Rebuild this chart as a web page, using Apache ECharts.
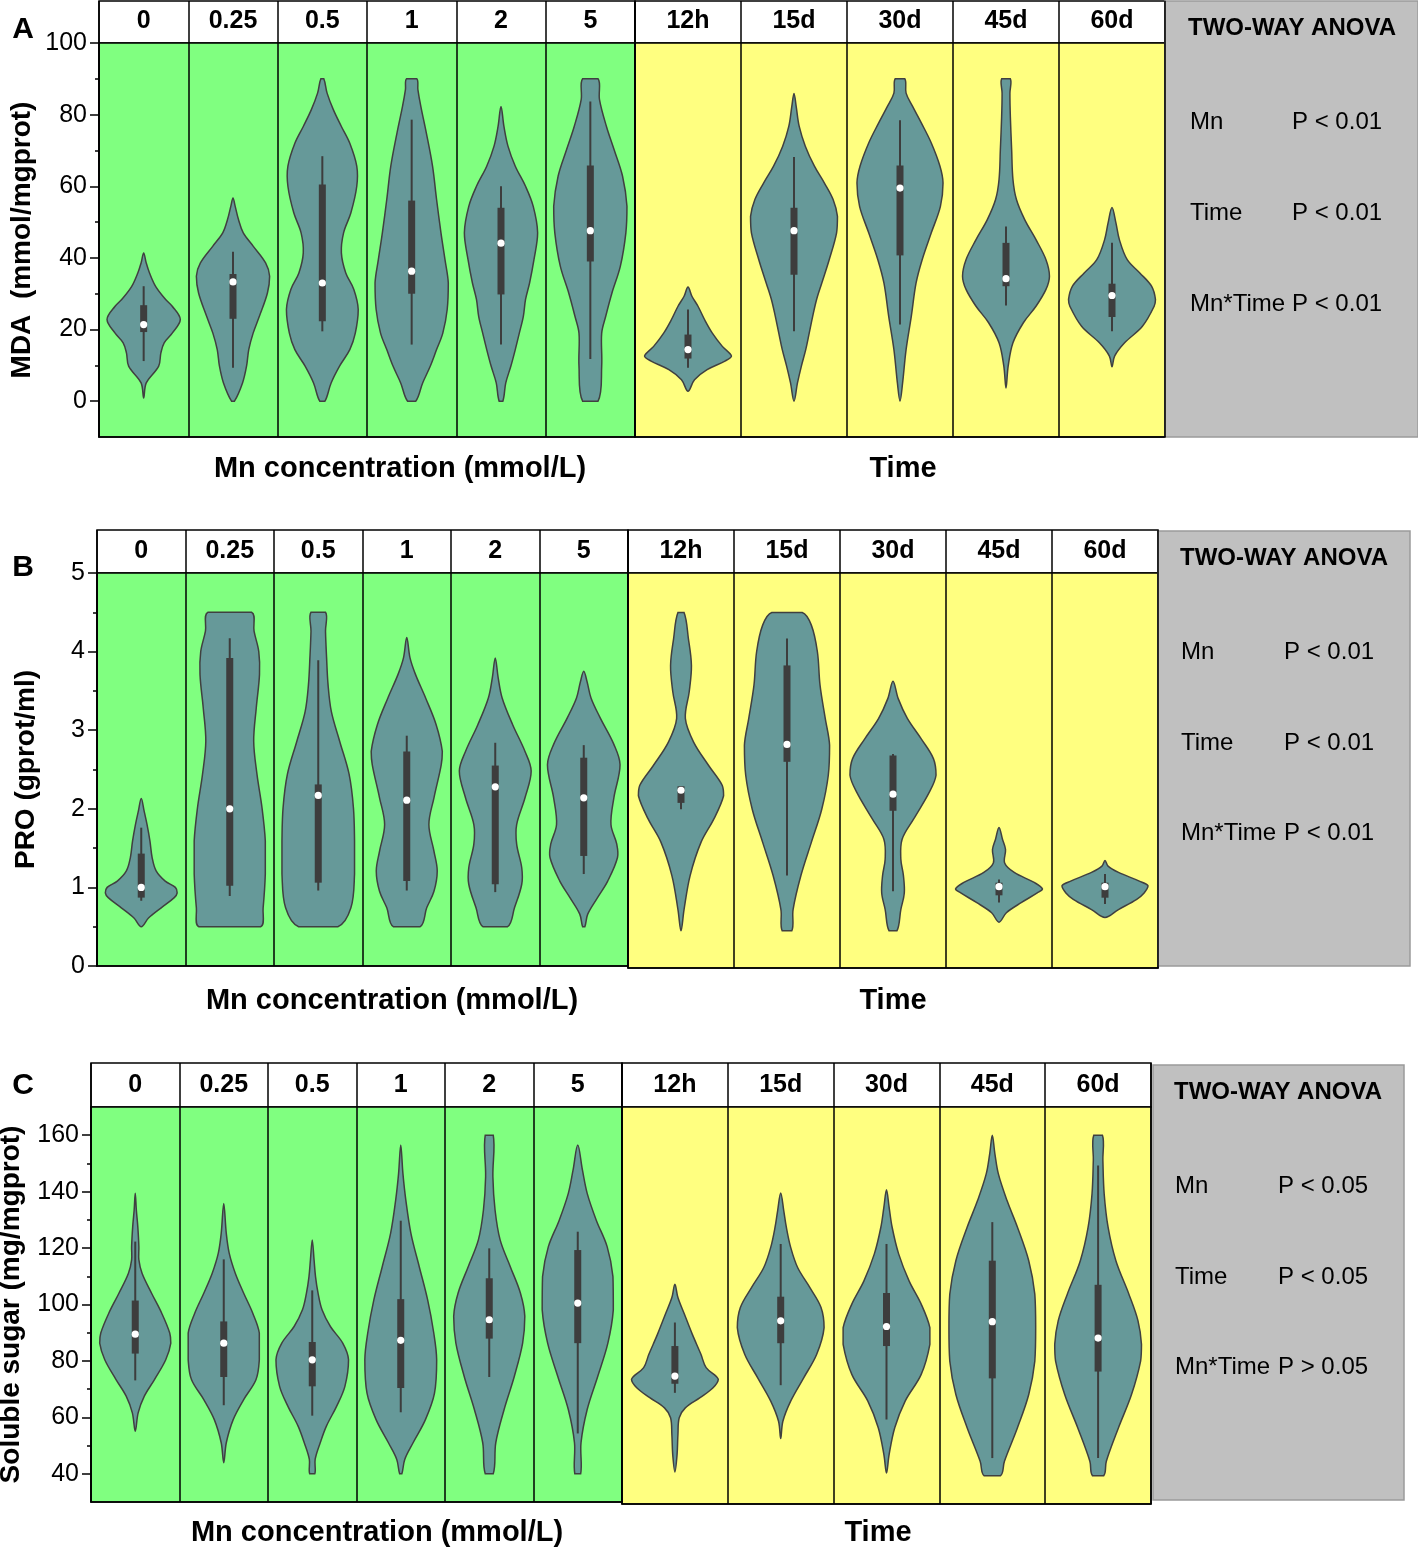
<!DOCTYPE html>
<html>
<head>
    <meta charset="utf-8">
    <script src="https://cdn.jsdelivr.net/npm/echarts@6/dist/echarts.min.js"></script>
    <style>
        body, html {
            margin: 0;
            background: #fff;
        }
        #main {
            width: 1418px;
            height: 1549px;
        }
    </style>
</head>
<body>
<div id="main"></div>

<script>
    // categories
    var mnCategories = ['0', '0.25', '0.5', '1', '2', '5'];
    var timeCategories = ['12h', '15d', '30d', '45d', '60d'];

    // box stats: [whisker low, q1, median, q3, whisker high]
    var mdaMnStats = [[11.2, 19.3, 21.4, 26.8, 32.1], [9.3, 23, 33.3, 35.5, 41.7], [19.5, 22.3, 33, 60.5, 68.4],
        [15.8, 30, 36.3, 56, 78.6], [15.8, 29.8, 44.1, 54, 60], [11.8, 39, 47.6, 65.8, 83.7]];
    var mdaTimeStats = [[9.3, 11.9, 14.4, 18.6, 25.6], [19.5, 35.3, 47.6, 54, 68.2], [21.4, 40.7, 59.5, 65.8, 78.4],
        [26.7, 32.1, 34.2, 44.2, 48.8], [19.5, 23.5, 29.5, 32.8, 44.2]];
    var proMnStats = [[0.83, 0.87, 1.0, 1.43, 1.76], [0.89, 1.02, 2.0, 3.92, 4.17], [0.96, 1.06, 2.17, 2.31, 3.89],
        [0.96, 1.08, 2.11, 2.73, 2.93], [0.94, 1.04, 2.28, 2.55, 2.84], [1.17, 1.4, 2.14, 2.65, 2.81]];
    var proTimeStats = [[2.01, 2.09, 2.25, 2.3, 2.3], [1.17, 2.61, 2.83, 3.83, 4.17], [0.97, 1.99, 2.2, 2.69, 2.71],
        [0.83, 0.92, 1.03, 1.08, 1.12], [0.81, 0.89, 1.03, 1.08, 1.19]];
    var sugarMnStats = [[73.1, 82.6, 89.5, 101.4, 122.3], [64.3, 74.3, 86.3, 94, 116], [60.6, 71, 80.4, 86.7, 105],
        [61.8, 70.4, 87.3, 101.9, 129.7], [74.3, 87.9, 94.6, 109.3, 119.9], [54.3, 86.3, 100.5, 119.3, 125.8]];
    var sugarTimeStats = [[69.2, 72.4, 75.1, 85.7, 94], [71.9, 86.7, 94.6, 103.1, 121.7], [59.8, 85.7, 92.6, 104.4, 121.7],
        [46.2, 74.3, 94.3, 115.8, 129.4], [46.2, 76.7, 88.5, 107.3, 149.4]];

    // violin outlines: [value, relative half width]
    var mdaMnShapes = [
        [[0.9, 0], [5.1, 0.07], [9.8, 0.41], [13.5, 0.47], [16.3, 0.56], [19, 0.78], [22.8, 1], [26.5, 0.78], [28.4, 0.6], [32, 0.33], [35.8, 0.16], [38.6, 0.07], [41.4, 0]],
        [[0, 0.04], [5.1, 0.26], [9.8, 0.37], [14.4, 0.43], [19, 0.55], [23.7, 0.72], [30.2, 0.94], [34.9, 1], [38.6, 0.89], [43.3, 0.55], [47, 0.28], [50.7, 0.15], [54.4, 0.06], [56.7, 0]],
        [[0, 0.07], [5.1, 0.24], [9.8, 0.47], [14.4, 0.75], [19, 0.9], [25.6, 0.98], [31.2, 0.86], [35.8, 0.64], [41.4, 0.52], [47, 0.58], [52.6, 0.78], [60, 0.94], [65.6, 0.94], [72, 0.75], [76.7, 0.52], [81.4, 0.3], [86, 0.13], [90, 0.04]],
        [[0, 0.11], [5.1, 0.3], [9.8, 0.51], [14.4, 0.68], [19, 0.85], [25.6, 0.97], [33, 1], [39.5, 0.91], [47, 0.8], [56.3, 0.68], [65.6, 0.57], [74.9, 0.4], [82.3, 0.25], [87, 0.17], [90, 0.14]],
        [[0, 0.05], [5.1, 0.13], [9.8, 0.27], [14.4, 0.39], [19, 0.5], [23.7, 0.61], [28.4, 0.67], [33, 0.78], [39.5, 0.9], [47, 1], [54.4, 0.88], [60, 0.67], [65.6, 0.39], [71.2, 0.19], [76.7, 0.08], [82.3, 0]],
        [[0, 0.21], [9.8, 0.31], [19, 0.31], [23.7, 0.42], [30.2, 0.59], [37.7, 0.82], [47, 0.97], [54.4, 1], [62.8, 0.88], [70.2, 0.65], [76.7, 0.44], [84.2, 0.25], [90, 0.21]]
    ];
    var mdaTimeShapes = [
        [[2.8, 0], [6, 0.15], [8.8, 0.44], [11.2, 0.85], [12.6, 1], [15.3, 0.79], [19, 0.56], [22.8, 0.38], [26.5, 0.23], [29.3, 0.09], [31.9, 0]],
        [[0, 0], [5.1, 0.08], [9.8, 0.17], [14.4, 0.27], [19, 0.35], [23.7, 0.43], [28.4, 0.52], [33, 0.64], [39.5, 0.81], [47, 0.98], [51.6, 1], [56.3, 0.9], [60.9, 0.7], [65.6, 0.47], [71.2, 0.26], [76.7, 0.12], [82.3, 0.05], [85.9, 0]],
        [[0, 0], [5.1, 0.06], [14.4, 0.14], [23.7, 0.26], [33, 0.37], [39.5, 0.51], [47, 0.72], [54.4, 0.93], [60.9, 0.99], [65.6, 0.92], [72.1, 0.72], [77.7, 0.49], [82.3, 0.29], [86, 0.14], [90, 0.11]],
        [[3.7, 0], [9.8, 0.05], [16.3, 0.16], [21.9, 0.4], [26.5, 0.69], [31.2, 0.92], [34.9, 1], [39.5, 0.92], [45.1, 0.69], [50.7, 0.43], [56.3, 0.24], [61.9, 0.16], [70.2, 0.13], [79.5, 0.1], [86, 0.09], [90, 0.1]],
        [[9.6, 0], [12.6, 0.06], [16.3, 0.29], [20.9, 0.7], [26.5, 0.97], [28.4, 1], [32.1, 0.91], [35.8, 0.64], [39.5, 0.35], [45.1, 0.17], [49.8, 0.09], [54.1, 0]]
    ];
    var proMnShapes = [
        [[0.5, 0], [0.61, 0.2], [0.74, 0.55], [0.87, 0.91], [0.93, 0.99], [1.0, 0.94], [1.08, 0.66], [1.21, 0.41], [1.38, 0.3], [1.59, 0.24], [1.8, 0.16], [1.97, 0.08], [2.13, 0]],
        [[0.5, 0.85], [0.74, 0.92], [1.17, 0.98], [1.59, 0.98], [2.01, 0.89], [2.44, 0.75], [2.86, 0.66], [3.28, 0.73], [3.71, 0.82], [4.0, 0.8], [4.26, 0.67], [4.5, 0.6]],
        [[0.5, 0.54], [0.74, 0.9], [1.17, 1], [1.59, 1], [2.01, 0.97], [2.44, 0.85], [2.86, 0.59], [3.24, 0.36], [3.58, 0.27], [3.92, 0.23], [4.26, 0.2], [4.5, 0.2]],
        [[0.5, 0.37], [0.74, 0.55], [0.95, 0.75], [1.21, 0.84], [1.46, 0.75], [1.8, 0.61], [2.14, 0.75], [2.56, 0.95], [2.73, 0.98], [3.07, 0.81], [3.41, 0.52], [3.71, 0.24], [3.92, 0.09], [4.18, 0]],
        [[0.5, 0.34], [0.74, 0.53], [1.04, 0.73], [1.25, 0.73], [1.55, 0.59], [1.8, 0.59], [2.14, 0.82], [2.48, 0.99], [2.73, 0.82], [3.07, 0.48], [3.41, 0.19], [3.67, 0.08], [3.92, 0]],
        [[0.5, 0.03], [0.66, 0.11], [0.87, 0.38], [1.08, 0.66], [1.38, 0.93], [1.55, 0.91], [1.8, 0.75], [2.14, 0.83], [2.56, 1], [2.82, 0.83], [3.16, 0.45], [3.41, 0.2], [3.62, 0.09], [3.75, 0]]
    ];
    var proTimeShapes = [
        [[0.47, 0], [0.74, 0.07], [1.17, 0.21], [1.59, 0.46], [1.89, 0.76], [2.18, 0.98], [2.31, 0.95], [2.56, 0.64], [2.86, 0.29], [3.16, 0.1], [3.5, 0.19], [3.83, 0.24], [4.17, 0.17], [4.5, 0.07]],
        [[0.47, 0.11], [0.74, 0.14], [1.17, 0.32], [1.59, 0.56], [2.01, 0.8], [2.44, 0.95], [2.82, 0.98], [3.16, 0.88], [3.58, 0.76], [4.0, 0.7], [4.34, 0.56], [4.5, 0.35]],
        [[0.47, 0.09], [0.74, 0.18], [0.95, 0.26], [1.17, 0.24], [1.38, 0.18], [1.63, 0.21], [1.89, 0.48], [2.22, 0.83], [2.44, 0.99], [2.65, 0.93], [2.9, 0.65], [3.16, 0.33], [3.41, 0.12], [3.63, 0]],
        [[0.58, 0], [0.7, 0.17], [0.83, 0.52], [0.95, 0.88], [1.0, 1], [1.08, 0.82], [1.21, 0.35], [1.33, 0.13], [1.5, 0.15], [1.63, 0.08], [1.78, 0]],
        [[0.64, 0], [0.74, 0.31], [0.87, 0.73], [0.95, 0.9], [1.04, 0.99], [1.1, 0.79], [1.21, 0.31], [1.29, 0.07], [1.36, 0]]
    ];
    var sugarMnShapes = [
        [[55.1, 0], [61.6, 0.08], [67.5, 0.25], [73.4, 0.53], [80.4, 0.84], [86.3, 0.98], [89.9, 0.95], [96.9, 0.73], [104, 0.45], [111, 0.19], [115.8, 0.1], [120.5, 0.1], [127.6, 0.07], [133.5, 0.03], [139.4, 0]],
        [[43.9, 0], [51, 0.07], [59.2, 0.26], [66.3, 0.55], [73.4, 0.89], [80.4, 0.98], [89.9, 0.98], [96.9, 0.8], [104, 0.55], [111, 0.32], [118.2, 0.15], [125.2, 0.07], [135.8, 0]],
        [[40, 0.07], [45.1, 0.08], [51, 0.22], [56.9, 0.39], [63.9, 0.67], [71, 0.9], [80.4, 1], [86.3, 0.84], [92.2, 0.5], [98.1, 0.27], [104, 0.16], [109.9, 0.09], [115.8, 0.05], [122.9, 0]],
        [[40, 0.03], [45.1, 0.11], [51, 0.34], [59.2, 0.68], [68.6, 0.93], [80.4, 0.99], [89.9, 0.91], [101.7, 0.74], [113.4, 0.51], [125.2, 0.28], [137, 0.14], [146.4, 0.06], [156.5, 0]],
        [[40, 0.11], [51, 0.18], [62.8, 0.41], [74.5, 0.69], [86.3, 0.92], [95.8, 0.98], [104, 0.86], [113.4, 0.58], [122.9, 0.3], [133.5, 0.16], [145.3, 0.1], [160, 0.11]],
        [[40, 0.08], [51, 0.09], [62.8, 0.26], [74.5, 0.55], [86.3, 0.83], [98.1, 0.98], [109.9, 0.97], [120.5, 0.81], [129.9, 0.51], [139.4, 0.26], [147.6, 0.13], [156.5, 0]]
    ];
    var sugarTimeShapes = [
        [[41.3, 0], [47.4, 0.05], [54.5, 0.07], [60.4, 0.1], [63.9, 0.24], [67.5, 0.58], [71, 0.88], [74, 1], [78.1, 0.72], [82.8, 0.6], [89.9, 0.4], [96.9, 0.22], [102.8, 0.07], [107.5, 0]],
        [[53.1, 0], [59.2, 0.05], [66.3, 0.23], [74.5, 0.53], [82.8, 0.83], [92.2, 1], [99.3, 0.93], [106.4, 0.67], [113.4, 0.39], [120.5, 0.23], [127.6, 0.13], [133.5, 0.07], [139.7, 0]],
        [[40.9, 0], [47.4, 0.06], [56.9, 0.19], [66.3, 0.43], [75.7, 0.8], [86.3, 1], [92.2, 1], [100.5, 0.8], [108.7, 0.52], [118.2, 0.28], [127.6, 0.13], [134.7, 0.06], [140.8, 0]],
        [[40, 0.19], [45.1, 0.28], [56.9, 0.58], [68.6, 0.84], [80.4, 0.98], [92.2, 1], [104, 0.98], [115.8, 0.84], [127.6, 0.58], [137, 0.34], [146.4, 0.14], [153.5, 0.06], [160, 0]],
        [[40, 0.13], [45.1, 0.19], [56.9, 0.47], [68.6, 0.77], [80.4, 0.98], [86.3, 1], [94.6, 0.92], [104, 0.71], [115.8, 0.41], [127.6, 0.23], [139.4, 0.14], [151.2, 0.11], [160, 0.1]]
    ];

    // axis ticks
    var mdaTicks = [0, 20, 40, 60, 80, 100];
    var mdaMinorTicks = [10, 30, 50, 70, 90];
    var proTicks = [0, 1, 2, 3, 4, 5];
    var proMinorTicks = [0.5, 1.5, 2.5, 3.5, 4.5];
    var sugarTicks = [40, 60, 80, 100, 120, 140, 160];
    var sugarMinorTicks = [50, 70, 90, 110, 130, 150];

    // two-way anova
    var anovaTerms = ['Mn', 'Time', 'Mn*Time'];
    var mdaP = ['P < 0.01', 'P < 0.01', 'P < 0.01'];
    var proP = ['P < 0.01', 'P < 0.01', 'P < 0.01'];
    var sugarP = ['P < 0.05', 'P < 0.05', 'P > 0.05'];

    var FONT = "'Liberation Sans', Arial, sans-serif";
    var GREEN = '#80ff80', YELLOW = '#ffff80', GRAY = '#c0c0c0';
    var VIOLIN = '#669999', DARK = '#3d3d3d';

    var panels = [
        {letter: 'A', hTop: 1, pTop: 43, pBot: 437, yBot: 437, gL: 99, mid: 635, yR: 1165,
            box: [1165, 1, 253, 436], anovaX: [1190, 1292], rows: [122, 213, 304], titleY: 28,
            xTitleY: 469, mnTitleX: 400, timeTitleX: 903, letterY: 30, nameGap: 63,
            min: -10, max: 100, ticks: mdaTicks, minor: mdaMinorTicks, yName: 'MDA  (mmol/mgprot)',
            mnStats: mdaMnStats, timeStats: mdaTimeStats, mnShapes: mdaMnShapes, timeShapes: mdaTimeShapes, p: mdaP},
        {letter: 'B', hTop: 530, pTop: 573, pBot: 966, yBot: 968, gL: 97, mid: 628, yR: 1158,
            box: [1158, 531, 252, 435], anovaX: [1181, 1284], rows: [652, 743, 833], titleY: 558,
            xTitleY: 1001, mnTitleX: 392, timeTitleX: 893, letterY: 568, nameGap: 57,
            min: 0, max: 5, ticks: proTicks, minor: proMinorTicks, yName: 'PRO (gprot/ml)',
            mnStats: proMnStats, timeStats: proTimeStats, mnShapes: proMnShapes, timeShapes: proTimeShapes, p: proP},
        {letter: 'C', hTop: 1063, pTop: 1107, pBot: 1502, yBot: 1504, gL: 91, mid: 622, yR: 1151,
            box: [1153, 1065, 251, 435], anovaX: [1175, 1278], rows: [1186, 1277, 1367], titleY: 1092,
            xTitleY: 1533, mnTitleX: 377, timeTitleX: 878, letterY: 1086, nameGap: 66,
            min: 30, max: 170, ticks: sugarTicks, minor: sugarMinorTicks, yName: 'Soluble sugar (mg/mgprot)',
            mnStats: sugarMnStats, timeStats: sugarTimeStats, mnShapes: sugarMnShapes, timeShapes: sugarTimeShapes, p: sugarP}
    ];

    function violinRenderer(shapes, stats) {
        return function (params, api) {
            var i = api.value(0);
            var s = stats[i];
            var prof = shapes[i];
            var y = function (v) { return api.coord([i, v])[1]; };
            var cx = api.coord([i, s[2]])[0];
            var hw = api.size([1, 0])[0] * 0.41;
            var pts = [];
            for (var k = 0; k < prof.length; k++) {
                pts.push([cx + prof[k][1] * hw, y(prof[k][0])]);
            }
            for (var j = prof.length - 1; j >= 0; j--) {
                if (prof[j][1] > 0) pts.push([cx - prof[j][1] * hw, y(prof[j][0])]);
            }
            var my = y(s[2]);
            return {
                type: 'group',
                children: [
                    {type: 'polygon', shape: {points: pts, smooth: 0.35, smoothConstraint: [[cx, my], [cx, my]]},
                        style: {fill: VIOLIN, stroke: '#404040', lineWidth: 1.5}},
                    {type: 'line', shape: {x1: cx, y1: y(s[0]), x2: cx, y2: y(s[4])},
                        style: {stroke: DARK, lineWidth: 2}},
                    {type: 'rect', shape: {x: cx - 3.5, y: y(s[3]), width: 7, height: y(s[1]) - y(s[3])},
                        style: {fill: DARK}},
                    {type: 'circle', shape: {cx: cx, cy: my, r: 3.6}, style: {fill: '#fff'}}
                ]
            };
        };
    }

    var grid = [], xAxis = [], yAxis = [], series = [], graphic = [];

    function text(str, x, y, size, bold, align) {
        return {
            type: 'text', x: x, y: y,
            style: {
                text: str, fill: '#000',
                font: (bold ? 'bold ' : '') + size + 'px ' + FONT,
                align: align || 'center', textAlign: align || 'center',
                verticalAlign: 'middle', textVerticalAlign: 'middle'
            }
        };
    }

    panels.forEach(function (p) {
        var parts = [
            {left: p.gL, right: p.mid, bg: GREEN, cats: mnCategories, stats: p.mnStats, shapes: p.mnShapes, bot: p.pBot, main: true},
            {left: p.mid, right: p.yR, bg: YELLOW, cats: timeCategories, stats: p.timeStats, shapes: p.timeShapes, bot: p.yBot, main: false}
        ];
        parts.forEach(function (part) {
            // header cells
            grid.push({left: part.left, top: p.hTop, width: part.right - part.left, height: p.pTop - p.hTop,
                show: true, backgroundColor: '#fff', borderColor: '#000', borderWidth: 1.5, outerBoundsMode: 'none'});
            var hg = grid.length - 1;
            xAxis.push({type: 'category', gridIndex: hg, data: part.cats,
                axisLine: {show: false}, axisTick: {show: false, interval: 0},
                axisLabel: {inside: true, margin: 9, interval: 0, color: '#000', fontSize: 25, fontWeight: 'bold', fontFamily: FONT},
                splitLine: {show: true, interval: 0, lineStyle: {color: '#000', width: 1.5}}});
            yAxis.push({type: 'value', gridIndex: hg, show: false, min: 0, max: 1});

            // plot cells
            grid.push({left: part.left, top: p.pTop, width: part.right - part.left, height: part.bot - p.pTop,
                show: true, backgroundColor: part.bg, borderColor: '#000', borderWidth: 1.5, outerBoundsMode: 'none'});
            var pg = grid.length - 1;
            xAxis.push({type: 'category', gridIndex: pg, data: part.cats,
                axisLine: {show: true, onZero: false, lineStyle: {color: '#000', width: 1.5}},
                axisTick: {show: false, interval: 0}, axisLabel: {show: false, interval: 0},
                splitLine: {show: true, interval: 0, lineStyle: {color: '#000', width: 1.5}}});
            var xi = xAxis.length - 1;
            yAxis.push({type: 'value', gridIndex: pg, min: p.min, max: p.max, show: part.main,
                name: part.main ? p.yName : '', nameLocation: 'middle', nameGap: p.nameGap,
                nameTextStyle: {fontSize: 28, fontWeight: 'bold', color: '#000', fontFamily: FONT},
                axisLine: {show: true, onZero: false, lineStyle: {color: '#000', width: 1.5}},
                axisTick: {show: true, length: 9, customValues: p.ticks, lineStyle: {color: '#000', width: 1.5}},
                axisLabel: {customValues: p.ticks, margin: 12, color: '#000', fontSize: 25, fontFamily: FONT},
                splitLine: {show: false}});
            var yi = yAxis.length - 1;
            if (part.main) {
                yAxis.push({type: 'value', gridIndex: pg, min: p.min, max: p.max, position: 'left',
                    axisLine: {show: false}, axisLabel: {show: false}, splitLine: {show: false},
                    axisTick: {show: true, length: 4, customValues: p.minor, lineStyle: {color: '#000', width: 1.5}}});
            }
            series.push({
                type: 'custom', xAxisIndex: xi, yAxisIndex: yi,
                renderItem: violinRenderer(part.shapes, part.stats),
                encode: {x: 0, y: 1},
                data: part.cats.map(function (c, i) { return [i, part.stats[i][2]]; }),
                silent: true, z: 3
            });
        });

        graphic.push({type: 'rect', shape: {x: p.box[0], y: p.box[1], width: p.box[2], height: p.box[3]},
            style: {fill: GRAY, stroke: '#9a9a9a', lineWidth: 1.5}});
        graphic.push(text('TWO-WAY ANOVA', p.anovaX[1], p.titleY, 24, true, 'center'));
        anovaTerms.forEach(function (t, k) {
            graphic.push(text(t, p.anovaX[0], p.rows[k], 24, false, 'left'));
            graphic.push(text(p.p[k], p.anovaX[1], p.rows[k], 24, false, 'left'));
        });
        graphic.push(text(p.letter, 23, p.letterY, 30, true, 'center'));
        graphic.push(text('Mn concentration (mmol/L)', p.mnTitleX, p.xTitleY, 29, true, 'center'));
        graphic.push(text('Time', p.timeTitleX, p.xTitleY, 29, true, 'center'));
    });

    var myChart = echarts.init(document.getElementById('main'));
    myChart.setOption({
        animation: false,
        backgroundColor: '#fff',
        grid: grid,
        xAxis: xAxis,
        yAxis: yAxis,
        series: series,
        graphic: {elements: graphic}
    });
</script>
</body>
</html>
